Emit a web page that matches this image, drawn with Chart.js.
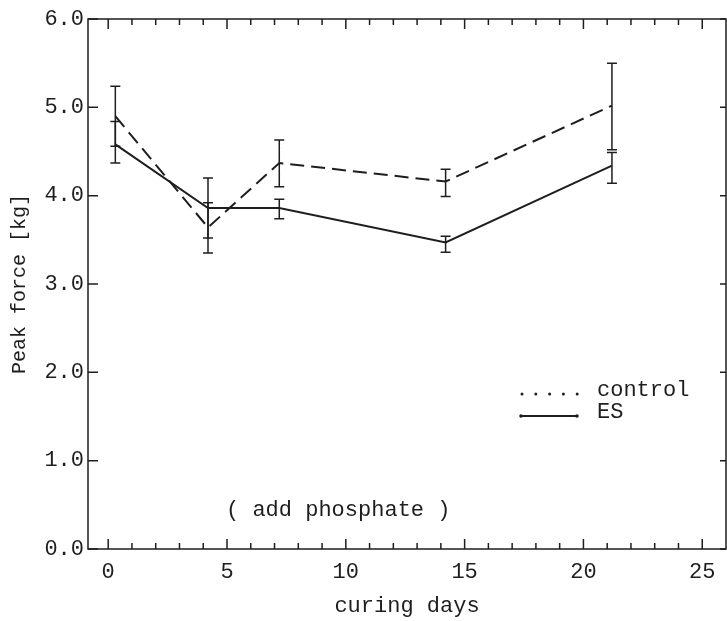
<!DOCTYPE html>
<html>
<head>
<meta charset="utf-8">
<script src="https://cdn.jsdelivr.net/npm/chart.js@4.4.1/dist/chart.umd.min.js"></script>
<style>
    html, body { margin: 0; padding: 0; background: #fff; }
</style>
</head>
<body>
<canvas id="forceChart" width="727" height="621"></canvas>
<script>
// values
const curingDays = [0.3, 4.2, 7.2, 14.2, 21.2];
const controlForce = [4.90, 3.64, 4.37, 4.16, 5.02];
const controlLow = [4.56, 3.35, 4.10, 3.99, 4.52];
const controlHigh = [5.24, 3.92, 4.63, 4.30, 5.50];
const esForce = [4.58, 3.86, 3.86, 3.47, 4.34];
const esLow = [4.37, 3.52, 3.74, 3.36, 4.14];
const esHigh = [4.84, 4.20, 3.96, 3.54, 4.49];

const xTicks = [0, 5, 10, 15, 20, 25];
const yTicks = [0, 1, 2, 3, 4, 5, 6];

const ink = '#1e1e1e';
const mono = '"Liberation Mono", "DejaVu Sans Mono", monospace';

function toPoints(xs, ys) {
    return xs.map((d, i) => ({ x: d, y: ys[i] }));
}

// frame, inward ticks, error bars, legend and note
const paperPlugin = {
    id: 'paper',
    afterDatasetsDraw(chart) {
        const { ctx, chartArea: a, scales: { x, y } } = chart;
        ctx.save();
        ctx.strokeStyle = ink;
        ctx.fillStyle = ink;
        ctx.lineWidth = 1.5;
        ctx.strokeRect(a.left, a.top, a.right - a.left, a.bottom - a.top);

        ctx.beginPath();
        for (let d = 0; d <= 25; d++) {
            const px = x.getPixelForValue(d);
            const len = d % 5 === 0 ? 10 : 6;
            ctx.moveTo(px, a.bottom); ctx.lineTo(px, a.bottom - len);
            ctx.moveTo(px, a.top); ctx.lineTo(px, a.top + len);
        }
        yTicks.forEach(v => {
            const py = y.getPixelForValue(v);
            ctx.moveTo(a.left, py); ctx.lineTo(a.left + 10, py);
            ctx.moveTo(a.right, py); ctx.lineTo(a.right - 6, py);
        });
        ctx.stroke();

        // error bars
        const drawBars = (lows, highs) => {
            ctx.beginPath();
            curingDays.forEach((d, i) => {
                const px = x.getPixelForValue(d);
                const lo = y.getPixelForValue(lows[i]);
                const hi = y.getPixelForValue(highs[i]);
                ctx.moveTo(px, lo); ctx.lineTo(px, hi);
                ctx.moveTo(px - 5, lo); ctx.lineTo(px + 5, lo);
                ctx.moveTo(px - 5, hi); ctx.lineTo(px + 5, hi);
            });
            ctx.stroke();
        };
        drawBars(controlLow, controlHigh);
        drawBars(esLow, esHigh);

        // legend
        for (let k = 0; k < 5; k++) {
            ctx.beginPath();
            ctx.arc(522 + k * 13.8, 394, 1.5, 0, Math.PI * 2);
            ctx.fill();
        }
        ctx.lineWidth = 2;
        ctx.beginPath();
        ctx.moveTo(521, 416); ctx.lineTo(577, 416);
        ctx.stroke();
        [521, 577].forEach(px => {
            ctx.beginPath();
            ctx.arc(px, 416, 1.8, 0, Math.PI * 2);
            ctx.fill();
        });

        ctx.font = '22px ' + mono;
        ctx.textBaseline = 'middle';
        ctx.textAlign = 'left';
        ctx.fillText('control', 597, 390);
        ctx.fillText('ES', 597, 412);
        ctx.fillText('( add phosphate )', 226, 510);
        ctx.restore();
    }
};

const forceChart = new Chart(document.getElementById('forceChart'), {
    type: 'line',
    data: {
        datasets: [
            {
                label: 'control',
                data: toPoints(curingDays, controlForce),
                borderColor: ink,
                borderWidth: 2,
                borderDash: [14, 7],
                pointRadius: 0,
                tension: 0,
                fill: false,
            },
            {
                label: 'ES',
                data: toPoints(curingDays, esForce),
                borderColor: ink,
                borderWidth: 2,
                pointRadius: 0,
                tension: 0,
                fill: false,
            }
        ]
    },
    options: {
        responsive: false,
        animation: false,
        layout: { padding: { top: 19, right: 1, left: 0, bottom: 0 } },
        plugins: {
            legend: { display: false },
            tooltip: { enabled: false },
        },
        scales: {
            x: {
                type: 'linear',
                min: -0.85,
                max: 26,
                afterBuildTicks: scale => { scale.ticks = xTicks.map(v => ({ value: v })); },
                afterFit: scale => { scale.height = 72; },
                grid: { display: false, drawTicks: false, tickLength: 0 },
                border: { display: false },
                ticks: {
                    color: ink,
                    font: { family: mono, size: 22 },
                    padding: 10,
                    maxRotation: 0,
                    callback: v => String(v),
                },
                title: {
                    display: true,
                    text: 'curing days',
                    color: ink,
                    font: { family: mono, size: 22 },
                    padding: { top: 0, bottom: 2 },
                },
            },
            y: {
                min: 0,
                max: 6,
                afterBuildTicks: scale => { scale.ticks = yTicks.map(v => ({ value: v })); },
                afterFit: scale => { scale.width = 88; },
                grid: { display: false, drawTicks: false, tickLength: 0 },
                border: { display: false },
                ticks: {
                    color: ink,
                    font: { family: mono, size: 22 },
                    padding: 4,
                    callback: v => v.toFixed(1),
                },
                title: {
                    display: true,
                    text: 'Peak force [kg]',
                    color: ink,
                    font: { family: mono, size: 20 },
                    padding: { top: 8, bottom: 0 },
                },
            }
        }
    },
    plugins: [paperPlugin]
});
</script>
</body>
</html>
